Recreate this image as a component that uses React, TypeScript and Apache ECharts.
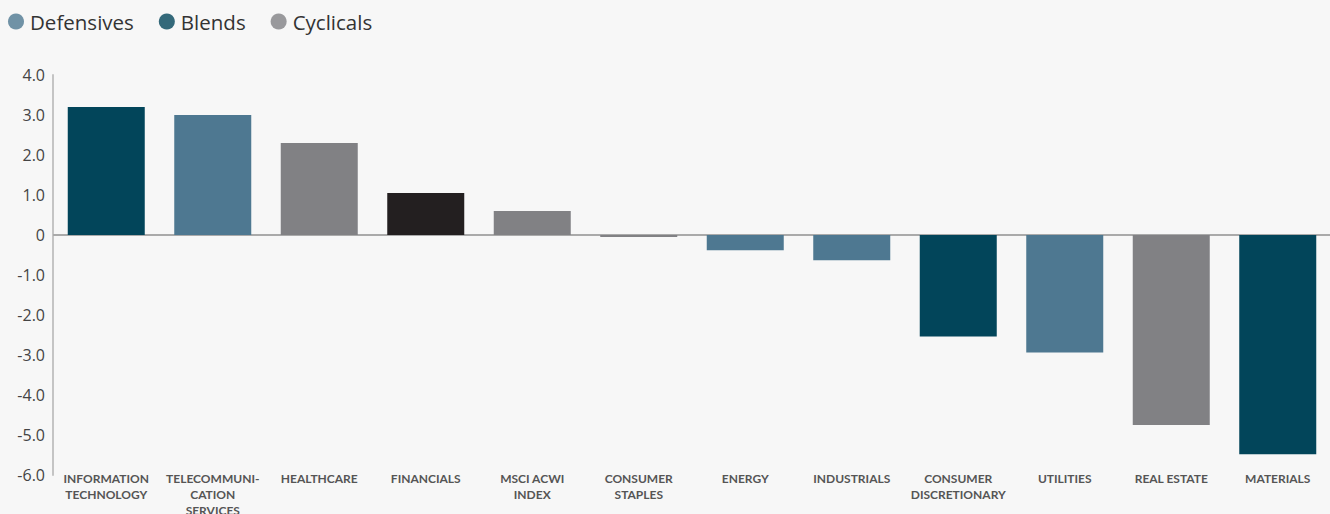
import React, { useEffect, useRef } from "react";
import * as echarts from "echarts";

const categories = [
  "INFORMATION\nTECHNOLOGY",
  "TELECOMMUNI-\nCATION\nSERVICES",
  "HEALTHCARE",
  "FINANCIALS",
  "MSCI ACWI\nINDEX",
  "CONSUMER\nSTAPLES",
  "ENERGY",
  "INDUSTRIALS",
  "CONSUMER\nDISCRETIONARY",
  "UTILITIES",
  "REAL ESTATE",
  "MATERIALS",
];
const values = [3.2, 3.0, 2.3, 1.05, 0.6, -0.05, -0.38, -0.63, -2.54, -2.94, -4.75, -5.48];
const groups = ["Blends", "Defensives", "Cyclicals", "Other", "Cyclicals", "Cyclicals", "Defensives", "Defensives", "Blends", "Defensives", "Cyclicals", "Blends"];
const legendNames = ["Defensives", "Blends", "Cyclicals"];
const colors: Record<string, string> = {
  Defensives: "#4e7891",
  Blends: "#02455a",
  Cyclicals: "#818184",
  Other: "#231f20",
};

export default function App() {
  const ref = useRef<HTMLDivElement>(null);
  useEffect(() => {
    if (!ref.current) return;
    const chart = echarts.init(ref.current, undefined, { renderer: "svg" });
    chart.setOption({
      animation: false,
      backgroundColor: "#f7f7f7",
      textStyle: { fontFamily: "Lato, 'Open Sans', sans-serif" },
      legend: {
        left: 8,
        top: 11,
        padding: 0,
        icon: "circle",
        itemWidth: 16,
        itemHeight: 16,
        itemGap: 25,
        data: legendNames,
        textStyle: { fontSize: 20.5, color: "#333", fontFamily: "'Open Sans', sans-serif", padding: [0, 0, 0, 1] },
      },
      grid: { left: 53, right: -1, top: 75, bottom: 39, containLabel: false, outerBoundsMode: "none" },
      xAxis: {
        type: "category",
        data: categories,
        axisLine: { show: false, onZero: false },
        axisTick: { show: false },
        axisLabel: {
          interval: 0,
          margin: -5,
          fontSize: 12,
          lineHeight: 16,
          fontWeight: "bold",
          color: "#555",
          fontFamily: "Lato, sans-serif",
        },
      },
      yAxis: {
        type: "value",
        min: -6,
        max: 4,
        interval: 1,
        axisLine: { show: true, lineStyle: { color: "#c4c4c4", width: 2 } },
        axisTick: { show: false },
        splitLine: { show: false },
        axisLabel: {
          margin: 8,
          fontSize: 16,
          color: "#444",
          fontFamily: "'Open Sans', sans-serif",
          formatter: (v: number) => (v === 0 ? "0" : v.toFixed(1)),
        },
      },
      series: [
        {
          type: "bar",
          barWidth: 77,
          data: values.map((v, i) => ({ value: v, itemStyle: { color: colors[groups[i]] } })),
          markLine: {
            silent: true,
            symbol: "none",
            z: 1,
            label: { show: false },
            lineStyle: { color: "#aaaaaa", width: 2, type: "solid" },
            data: [{ yAxis: 0 }],
          },
        },
        ...legendNames.map((n) => ({
          name: n,
          type: "scatter",
          data: [],
          itemStyle: { color: colors[n] },
        })),
      ],
    });
    return () => chart.dispose();
  }, []);
  return <div ref={ref} style={{ width: 1330, height: 514, position: "absolute", left: 0, top: 0 }} />;
}
